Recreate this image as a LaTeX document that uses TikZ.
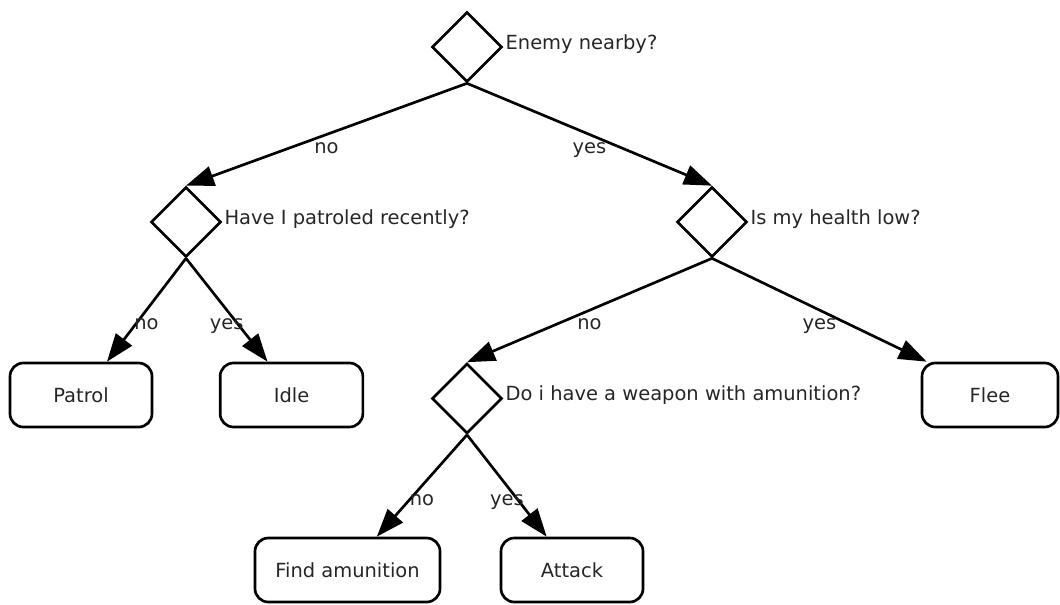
\documentclass[tikz,border=0pt]{standalone}
\usepackage{fontspec}
\setmainfont{DejaVu Sans}
\usetikzlibrary{shapes.geometric,arrows.meta}
\begin{document}
\begin{tikzpicture}[x=0.75pt,y=-0.75pt,
  every node/.style={font=\fontsize{14.6pt}{17pt}\selectfont, text=black!85},
  decision/.style={draw=black, line width=2pt, shape=diamond, aspect=1,
    minimum width=52.5pt, minimum height=52.5pt, inner sep=0pt},
  question/.style={anchor=base west, inner sep=0pt},
  action/.style={draw=black, line width=2pt, rounded corners=10pt,
    minimum height=48pt, inner sep=0pt},
  branch/.style={draw=black, line width=2pt, -{Triangle[length=21pt,width=15pt]}},
  answer/.style={midway, anchor=north, inner sep=0pt, text height=13.5pt, text depth=4pt}]
\useasboundingbox (0,0) rectangle (1060,604);

% decisions
\node[decision] (q1) at (467,47) {};
\node[question] (q1t) at ([xshift=1.5pt,yshift=-1.5pt]q1.east) {Enemy nearby?};
\node[decision] (q2) at (186,222) {};
\node[question] (q2t) at ([xshift=1.5pt,yshift=-1.5pt]q2.east) {Have I patroled recently?};
\node[decision] (q3) at (712,222) {};
\node[question] (q3t) at ([xshift=1.5pt,yshift=-1.5pt]q3.east) {Is my health low?};
\node[decision] (q4) at (467,398.5) {};
\node[question] (q4t) at ([xshift=1.5pt,yshift=-1.5pt]q4.east) {Do i have a weapon with amunition?};

% actions
\node[action, minimum width=106.5pt] (patrol) at (81,395) {Patrol};
\node[action, minimum width=107pt] (idle) at (291.5,395) {Idle};
\node[action, minimum width=138.75pt] (find) at (347.5,570) {Find amunition};
\node[action, minimum width=106.5pt] (attack) at (572,570) {Attack};
\node[action, minimum width=102pt] (flee) at (990,395) {Flee};

% branches
\draw[branch] (q1.south) -- (q2.north) node[answer] {no};
\draw[branch] (q1.south) -- (q3.north) node[answer] {yes};
\draw[branch] (q2.south) -- ([xshift=19.5pt]patrol.north) node[answer] {no};
\draw[branch] (q2.south) -- ([xshift=-18pt]idle.north) node[answer] {yes};
\draw[branch] (q3.south) -- (q4.north) node[answer] {no};
\draw[branch] (q3.south) -- ([xshift=4.5pt]flee.north west) node[answer] {yes};
\draw[branch] (q4.south) -- ([xshift=22pt]find.north) node[answer] {no};
\draw[branch] (q4.south) -- ([xshift=-19pt]attack.north) node[answer] {yes};
\end{tikzpicture}
\end{document}
